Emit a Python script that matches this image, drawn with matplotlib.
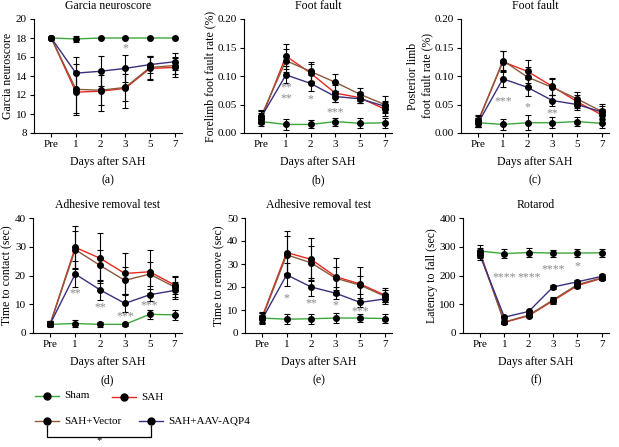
import numpy as np
import matplotlib
matplotlib.use('Agg')
import matplotlib.pyplot as plt

plt.rcParams['font.family'] = ['Liberation Serif', 'DejaVu Serif']

days = ['Pre', '1', '2', '3', '5', '7']
groups = ['Sham', 'SAH', 'SAH+Vector', 'SAH+AAV-AQP4']
colors = ['#3aa83a', '#e8271f', '#8a5a3c', '#3b2f7e']

# (a) Garcia neuroscore
garcia_sham = [18, 17.9, 18, 18, 18, 18]
garcia_sah = [18, 12.3, 12.4, 12.7, 14.8, 14.9]
garcia_vec = [18, 12.6, 12.5, 12.8, 14.9, 15.1]
garcia_aqp = [18, 14.3, 14.5, 14.8, 15.2, 15.5]
garcia_err_sham = [0, 0.3, 0, 0, 0, 0]
garcia_err_sah = [0, 2.2, 2.1, 2.1, 1.2, 1.0]
garcia_err_vec = [0, 2.7, 1.6, 1.4, 1.2, 0.9]
garcia_err_aqp = [0, 1.7, 1.6, 1.4, 0.9, 0.9]

# (b) forelimb foot fault
fore_sham = [0.020, 0.015, 0.015, 0.020, 0.017, 0.018]
fore_sah = [0.025, 0.135, 0.105, 0.070, 0.062, 0.042]
fore_vec = [0.030, 0.127, 0.108, 0.089, 0.068, 0.050]
fore_aqp = [0.028, 0.102, 0.087, 0.064, 0.060, 0.047]
fore_err_sham = [0.008, 0.009, 0.007, 0.007, 0.009, 0.009]
fore_err_sah = [0.010, 0.022, 0.016, 0.015, 0.010, 0.012]
fore_err_vec = [0.010, 0.020, 0.017, 0.015, 0.011, 0.015]
fore_err_aqp = [0.010, 0.015, 0.014, 0.010, 0.008, 0.010]

# (c) posterior limb foot fault
post_sham = [0.018, 0.015, 0.018, 0.018, 0.020, 0.017]
post_sah = [0.022, 0.125, 0.108, 0.082, 0.055, 0.032]
post_vec = [0.020, 0.127, 0.098, 0.080, 0.060, 0.038]
post_aqp = [0.018, 0.095, 0.080, 0.057, 0.050, 0.037]
post_err_sham = [0.008, 0.010, 0.013, 0.010, 0.008, 0.008]
post_err_sah = [0.010, 0.018, 0.020, 0.015, 0.012, 0.010]
post_err_vec = [0.010, 0.017, 0.018, 0.014, 0.012, 0.013]
post_err_aqp = [0.008, 0.014, 0.015, 0.010, 0.010, 0.010]

# (d) adhesive removal, time to contact
cont_sham = [3.0, 3.3, 3.0, 3.0, 6.5, 6.3]
cont_sah = [3.3, 29.8, 26.0, 20.7, 21.3, 16.7]
cont_vec = [3.3, 29.0, 23.5, 18.3, 20.5, 16.0]
cont_aqp = [3.3, 20.5, 15.0, 10.3, 13.3, 14.8]
cont_err_sham = [1.0, 1.2, 1.0, 0.5, 1.5, 1.7]
cont_err_sah = [1.0, 7.5, 8.7, 7.3, 7.5, 3.0]
cont_err_vec = [1.0, 6.5, 5.5, 4.7, 4.2, 3.5]
cont_err_aqp = [1.0, 4.5, 3.5, 3.0, 2.0, 3.0]

# (e) adhesive removal, time to remove
rem_sham = [6.5, 6.0, 6.2, 6.5, 6.5, 6.3]
rem_sah = [7.0, 35.0, 32.0, 24.5, 21.3, 16.5]
rem_vec = [6.5, 34.0, 30.5, 23.8, 20.8, 16.0]
rem_aqp = [6.0, 25.3, 20.0, 17.3, 13.3, 14.8]
rem_err_sham = [2.0, 2.3, 2.2, 2.0, 1.8, 1.8]
rem_err_sah = [2.0, 9.5, 9.3, 8.0, 7.5, 3.2]
rem_err_vec = [2.0, 8.0, 7.5, 5.0, 4.0, 2.5]
rem_err_aqp = [2.0, 5.0, 4.0, 2.5, 2.0, 2.0]

# (f) rotarod
rot_sham = [285, 276, 280, 278, 278, 279]
rot_sah = [280, 37, 60, 112, 165, 190]
rot_vec = [275, 38, 62, 115, 168, 192]
rot_aqp = [270, 55, 75, 160, 178, 197]
rot_err_sham = [20, 15, 17, 12, 15, 14]
rot_err_sah = [15, 5, 6, 10, 8, 6]
rot_err_vec = [15, 5, 6, 10, 8, 6]
rot_err_aqp = [15, 5, 6, 6, 8, 7]

panels = [
    dict(title='Garcia neuroscore', ylabel='Garcia neuroscore', tag='(a)',
         ylim=(8, 20), yticks=[8, 10, 12, 14, 16, 18, 20], fmt='{:.0f}',
         means=[garcia_sham, garcia_sah, garcia_vec, garcia_aqp],
         errs=[garcia_err_sham, garcia_err_sah, garcia_err_vec, garcia_err_aqp],
         stars=[(3, 16.9, '*')], pos=(34, 19, 182, 133)),
    dict(title='Foot fault', ylabel='Forelimb foot fault rate (%)', tag='(b)',
         ylim=(0, 0.2), yticks=[0, 0.05, 0.10, 0.15, 0.20], fmt='{:.2f}',
         means=[fore_sham, fore_sah, fore_vec, fore_aqp],
         errs=[fore_err_sham, fore_err_sah, fore_err_vec, fore_err_aqp],
         stars=[(1, 0.080, '**'), (1, 0.061, '**'), (2, 0.059, '*'), (3, 0.037, '***')],
         pos=(244, 19, 392, 133)),
    dict(title='Foot fault', ylabel='Posterior limb\nfoot fault rate (%)', tag='(c)',
         ylim=(0, 0.2), yticks=[0, 0.05, 0.10, 0.15, 0.20], fmt='{:.2f}',
         means=[post_sham, post_sah, post_vec, post_aqp],
         errs=[post_err_sham, post_err_sah, post_err_vec, post_err_aqp],
         stars=[(1, 0.055, '***'), (2, 0.045, '*'), (3, 0.035, '**')],
         pos=(461, 19, 609, 133)),
    dict(title='Adhesive removal test', ylabel='Time to contact (sec)', tag='(d)',
         ylim=(0, 40), yticks=[0, 10, 20, 30, 40], fmt='{:.0f}',
         means=[cont_sham, cont_sah, cont_vec, cont_aqp],
         errs=[cont_err_sham, cont_err_sah, cont_err_vec, cont_err_aqp],
         stars=[(1, 13.9, '**'), (2, 8.9, '**'), (3, 5.8, '***'), (4, 9.6, '***')],
         pos=(33, 218, 182, 333)),
    dict(title='Adhesive removal test', ylabel='Time to remove (sec)', tag='(e)',
         ylim=(0, 50), yticks=[0, 10, 20, 30, 40, 50], fmt='{:.0f}',
         means=[rem_sham, rem_sah, rem_vec, rem_aqp],
         errs=[rem_err_sham, rem_err_sah, rem_err_vec, rem_err_aqp],
         stars=[(1, 14.9, '*'), (2, 13.0, '**'), (3, 12.0, '*'), (4, 9.4, '***')],
         pos=(245, 218, 392, 333)),
    dict(title='Rotarod', ylabel='Latency to fall (sec)', tag='(f)',
         ylim=(0, 400), yticks=[0, 100, 200, 300, 400], fmt='{:.0f}',
         means=[rot_sham, rot_sah, rot_vec, rot_aqp],
         errs=[rot_err_sham, rot_err_sah, rot_err_vec, rot_err_aqp],
         stars=[(1, 194, '****'), (2, 194, '****'), (3, 220, '****'), (4, 232, '*')],
         pos=(463, 218, 609, 333)),
]

W, H = 619, 447
fig = plt.figure(figsize=(W / 100, H / 100), dpi=100)
x = np.arange(len(days))

for p in panels:
    x0, y0, x1, y1 = p['pos']
    ax = fig.add_axes([x0 / W, 1 - y1 / H, (x1 - x0) / W, (y1 - y0) / H])
    # SAH-type groups first, sham last
    for i in [1, 2, 3, 0]:
        ax.plot(x, p['means'][i], color=colors[i], lw=1, zorder=2)
        ax.errorbar(x, p['means'][i], yerr=p['errs'][i], fmt='none',
                    ecolor='black', elinewidth=0.8, capsize=2.5, capthick=0.8, zorder=3)
        ax.plot(x, p['means'][i], 'o', color='black', ms=4, zorder=4)
    for xi, yi, s in p['stars']:
        ax.text(xi, yi, s, color='#8a8a8a', fontsize=8.5, ha='center', va='center')
    ax.set_xlim(-0.7, 5.3)
    ax.set_ylim(*p['ylim'])
    ax.set_xticks(x)
    ax.set_xticklabels(days)
    ax.set_yticks(p['yticks'])
    ax.set_yticklabels([p['fmt'].format(v) for v in p['yticks']])
    ax.spines['top'].set_visible(False)
    ax.spines['right'].set_visible(False)
    ax.tick_params(labelsize=8, length=3, width=0.8, pad=2)
    ax.set_title(p['title'], fontsize=8.5, pad=7)
    ax.set_ylabel(p['ylabel'], fontsize=8.5, labelpad=1)
    ax.set_xlabel('Days after SAH' + '\n' + p['tag'], fontsize=8.5, labelpad=5,
                  linespacing=1.7)

# legend drawn in pixel space
lg = fig.add_axes([0, 0, 1, 1])
lg.set_xlim(0, W)
lg.set_ylim(H, 0)
lg.axis('off')
entries = [(47, 396, 'Sham'), (124, 397, 'SAH'), (47, 421, 'SAH+Vector'), (151, 421, 'SAH+AAV-AQP4')]
for (mx, my, lab), c in zip(entries, colors):
    lg.plot([mx - 12, mx + 12], [my, my], color=c, lw=1)
    lg.plot(mx, my, 'o', color='black', ms=5)
    lg.text(mx + 17, my, lab, fontsize=8, va='center', ha='left')
lg.plot([47, 47, 151, 151], [426, 437, 437, 426], color='black', lw=0.9)
lg.text(99, 441, '*', fontsize=7.5, ha='center', va='center')

plt.savefig('out.png', dpi=100)
